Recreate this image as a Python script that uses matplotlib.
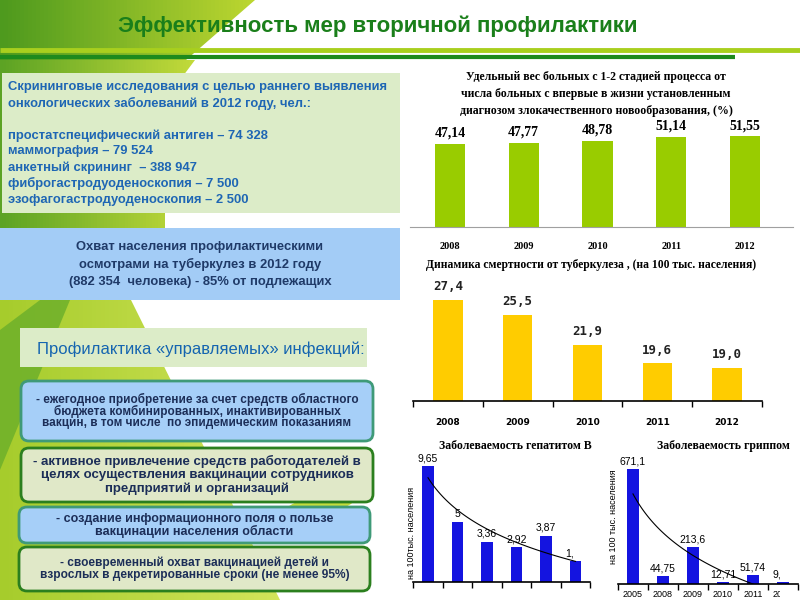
import matplotlib.pyplot as plt
import numpy as np
from matplotlib.patches import Polygon, Rectangle, FancyBboxPatch, Ellipse
from matplotlib.colors import LinearSegmentedColormap

plt.rcParams['font.family'] = ['Liberation Sans', 'DejaVu Sans']

# ---- данные ----
years = ['2008', '2009', '2010', '2011', '2012']
early_stage = [47.14, 47.77, 48.78, 51.14, 51.55]
tb_mortality = [27.4, 25.5, 21.9, 19.6, 19.0]
hepb_rate = [9.65, 5, 3.36, 2.92, 3.87, 1.75]
flu_years = ['2005', '2008', '2009', '2010', '2011', '2012']
flu_rate = [671.1, 44.75, 213.6, 12.71, 51.74, 9.51]

title = 'Эффективность мер вторичной профилактики'
screening_lines = ['Скрининговые исследования с целью раннего выявления',
                   'онкологических заболеваний в 2012 году, чел.:',
                   '',
                   'простатспецифический антиген – 74 328',
                   'маммография – 79 524',
                   'анкетный скрининг  – 388 947',
                   'фиброгастродуоденоскопия – 7 500',
                   'эзофагогастродуоденоскопия – 2 500']
tb_lines = ['Охват населения профилактическими',
            'осмотрами на туберкулез в 2012 году',
            '(882 354  человека) - 85% от подлежащих']
infection_head = 'Профилактика «управляемых» инфекций:'
measures = [['- ежегодное приобретение за счет средств областного',
             'бюджета комбинированных, инактивированных',
             'вакцин, в том числе  по эпидемическим показаниям'],
            ['- активное привлечение средств работодателей в',
             'целях осуществления вакцинации сотрудников',
             'предприятий и организаций'],
            ['- создание информационного поля о пользе',
             'вакцинации населения области'],
            ['- своевременный охват вакцинацией детей и',
             'взрослых в декретированные сроки (не менее 95%)']]
chart1_title = ['Удельный вес больных с 1-2 стадией процесса от',
                'числа больных с впервые в жизни установленным',
                'диагнозом злокачественного новообразования, (%)']
chart2_title = 'Динамика смертности от туберкулеза , (на 100 тыс. населения)'
chart3_title = 'Заболеваемость гепатитом В'
chart4_title = 'Заболеваемость гриппом'

SERIF = ['Liberation Serif', 'DejaVu Serif']

fig = plt.figure(figsize=(8, 6), dpi=100)
bg = fig.add_axes([0, 0, 1, 1])
bg.set_xlim(0, 800)
bg.set_ylim(600, 0)
bg.axis('off')


def px_axes(x0, y0, x1, y1):
    return fig.add_axes([x0 / 800, 1 - y1 / 600, (x1 - x0) / 800, (y1 - y0) / 600])


def grad_poly(verts, c1, c2, z=0):
    poly = Polygon(verts, closed=True, facecolor='none', edgecolor='none')
    bg.add_patch(poly)
    xs = [v[0] for v in verts]
    ys = [v[1] for v in verts]
    cmap = LinearSegmentedColormap.from_list('g', [c1, c2])
    im = bg.imshow(np.linspace(0, 1, 64).reshape(1, -1), cmap=cmap, aspect='auto',
                   extent=(min(xs), max(xs), max(ys), min(ys)), zorder=z)
    im.set_clip_path(poly)


# фоновые зелёные фигуры
grad_poly([(0, 0), (255, 0), (170, 74), (0, 74)], '#4e9a1e', '#bcd630')
grad_poly([(0, 60), (195, 60), (165, 100), (165, 300), (0, 300)], '#5ca324', '#c2da3a')
grad_poly([(0, 298), (130, 298), (280, 600), (0, 600)], '#a6cc2c', '#d2e45a')
bg.add_patch(Polygon([(0, 330), (40, 300), (70, 300), (0, 470)], closed=True,
                     facecolor='#6aae2a', edgecolor='none', alpha=0.8, zorder=0.5))
bg.add_patch(Ellipse((320, 505), 70, 18, angle=-10, facecolor='#c4dc3c', edgecolor='none', zorder=0.5))
bg.set_xlim(0, 800)
bg.set_ylim(600, 0)

# линии под заголовком
bg.plot([0, 800], [50, 50], color='#a8cf1e', lw=3.5, solid_capstyle='butt', zorder=2)
bg.plot([0, 735], [57, 57], color='#1d8a1d', lw=3, solid_capstyle='butt', zorder=2)
bg.text(378, 26, title, ha='center', va='center', fontsize=16, fontweight='bold',
        color='#1a7f1a', zorder=3)

# блок скрининга
bg.add_patch(Rectangle((2, 73), 398, 140, facecolor='#dcecc8', edgecolor='none', zorder=2))
for i, line in enumerate(screening_lines):
    bg.text(8, 87 + 16.1 * i, line, ha='left', va='center', fontsize=9.4, fontweight='bold',
            color='#1e66b4', zorder=3)

# блок туберкулез
bg.add_patch(Rectangle((0, 228), 400, 72, facecolor='#a3ccf6', edgecolor='none', zorder=2))
for i, line in enumerate(tb_lines):
    bg.text(200, 247 + 17.5 * i, line, ha='center', va='center', fontsize=9.4, fontweight='bold',
            color='#1f3a68', zorder=3)

# заголовок про инфекции
bg.add_patch(Rectangle((20, 328), 347, 39, facecolor='#dcecc8', edgecolor='none', zorder=2))
bg.text(37, 349, infection_head, ha='left', va='center', fontsize=12, color='#1565b0', zorder=3)

# скруглённые блоки: x, y, w, h, заливка, рамка, кегль, шаг строк
boxes = [(21, 381, 352, 60, '#a6cff8', '#3f9a78', 8.5, 11.7),
         (21, 448, 352, 54, '#e0e8c8', '#2b7f1e', 9.5, 13.5),
         (19, 507, 351, 36, '#a6cff8', '#3f9a78', 9, 12),
         (19, 547, 351, 44, '#e0e8c8', '#2b7f1e', 8.6, 12)]
for (x, y, w, h, fc, ec, fs, step), lines in zip(boxes, measures):
    bg.add_patch(FancyBboxPatch((x, y), w, h, boxstyle='round,pad=0,rounding_size=8',
                                facecolor=fc, edgecolor=ec, lw=2, zorder=2))
    n = len(lines)
    y0 = y + h / 2 - step * (n - 1) / 2
    for j, line in enumerate(lines):
        bg.text(x + w / 2, y0 + step * j, line, ha='center', va='center', fontsize=fs,
                fontweight='bold', color='#1c2e58', zorder=3)

# ---- график 1: удельный вес ----
ax1 = px_axes(410, 130, 793, 227)
x = np.arange(len(years))
ax1.bar(x, early_stage, width=0.41, color='#99cc00')
ax1.set_xlim(-0.542, 4.65)
ax1.set_ylim(0, 55.1)
for s in ['top', 'right', 'left']:
    ax1.spines[s].set_visible(False)
ax1.spines['bottom'].set_color('#a0a0a0')
ax1.set_yticks([])
ax1.set_xticks(x)
ax1.set_xticklabels(years, family=SERIF, fontweight='bold', fontsize=7.5)
ax1.tick_params(axis='x', length=0, pad=11)
ax1.patch.set_alpha(0)
for i, v in enumerate(early_stage):
    ax1.annotate(f'{v:.2f}'.replace('.', ','), (i, v), xytext=(0, 3), textcoords='offset points',
                 ha='center', va='bottom', fontsize=10, fontweight='bold', family=SERIF)
for i, line in enumerate(chart1_title):
    bg.text(596, 77 + 17 * i, line, ha='center', va='center', fontsize=8.5,
            fontweight='bold', family=SERIF)

# ---- график 2: смертность от туберкулеза ----
ax2 = px_axes(413, 290, 762, 401)
ax2.bar(x, tb_mortality, width=0.42, color='#ffcc00')
ax2.set_xlim(-0.5, 4.5)
ax2.set_ylim(15, 28.6)
for s in ['top', 'right', 'left']:
    ax2.spines[s].set_visible(False)
ax2.spines['bottom'].set_linewidth(1.2)
ax2.set_yticks([])
ax2.set_xticks(x)
ax2.set_xticklabels(years, fontweight='bold', fontsize=6.5, family=['DejaVu Sans'])
ax2.set_xticks(np.arange(-0.5, 5, 1), minor=True)
ax2.tick_params(axis='x', which='major', length=0, pad=12)
ax2.tick_params(axis='x', which='minor', length=4, direction='out', width=1)
ax2.patch.set_alpha(0)
for i, v in enumerate(tb_mortality):
    ax2.annotate(f'{v:.1f}'.replace('.', ','), (i, v), xytext=(0, 5), textcoords='offset points',
                 ha='center', va='bottom', fontsize=9, fontweight='bold',
                 family=['DejaVu Sans Mono'], color='#222222')
bg.text(591, 265, chart2_title, ha='center', va='center', fontsize=8.4, fontweight='bold', family=SERIF)


# ---- маленькие графики: гепатит и грипп ----
def small_chart(x0, x1, top, base, ymax, values, clip_x, title_txt, title_x, ylab, ylab_x, ylab_y, ticklabels):
    ax = px_axes(x0, top, x1, base)
    xi = np.arange(len(values))
    ax.bar(xi, values, width=0.4, color='#1414e0')
    ax.set_xlim(-0.5, len(values) - 0.5)
    ax.set_ylim(0, ymax)
    for s in ['top', 'right', 'left']:
        ax.spines[s].set_visible(False)
    ax.spines['bottom'].set_linewidth(1.2)
    ax.set_yticks([])
    ax.set_xticks(np.arange(-0.5, len(values), 1), minor=True)
    ax.tick_params(axis='x', which='minor', length=4, direction='out', width=1)
    ax.patch.set_alpha(0)
    clip = Rectangle((300, 400), clip_x - 300, 200, transform=bg.transData)
    ax.set_xticks(xi)
    if ticklabels:
        ax.set_xticklabels(ticklabels, fontsize=6.5)
        for t in ax.get_xticklabels():
            t.set_clip_path(clip)
    else:
        ax.set_xticklabels([])
    ax.tick_params(axis='x', which='major', length=0, pad=4)
    # логарифмический тренд
    lx = np.log(xi + 1)
    k, b = np.polyfit(lx, values, 1)
    xs = np.linspace(0, len(values) - 1, 100)
    ax.plot(xs, k * np.log(xs + 1) + b, color='black', lw=0.8)
    for i, v in enumerate(values):
        t = ax.annotate(f'{v:g}'.replace('.', ','), (i, v), xytext=(0, 2), textcoords='offset points',
                        ha='center', va='bottom', fontsize=7.5)
        t.set_clip_path(clip)
    bg.text(title_x, 446, title_txt, ha='center', va='center', fontsize=8.5,
            fontweight='bold', family=SERIF)
    yl = bg.text(ylab_x, ylab_y, ylab, rotation=90, ha='center', va='center', fontsize=6.5)
    yl.set_clip_path(Rectangle((300, 400), 500, 187, transform=bg.transData))
    return ax


small_chart(413.25, 590.25, 460, 582, 10.17, hepb_rate, 573, chart3_title, 515,
            'на 100тыс. населения', 412, 533, None)
small_chart(618, 798, 460, 584, 723, flu_rate, 780, chart4_title, 723,
            'на 100 тыс. населения', 613, 517, flu_years)

fig.savefig('out.png', dpi=100)
